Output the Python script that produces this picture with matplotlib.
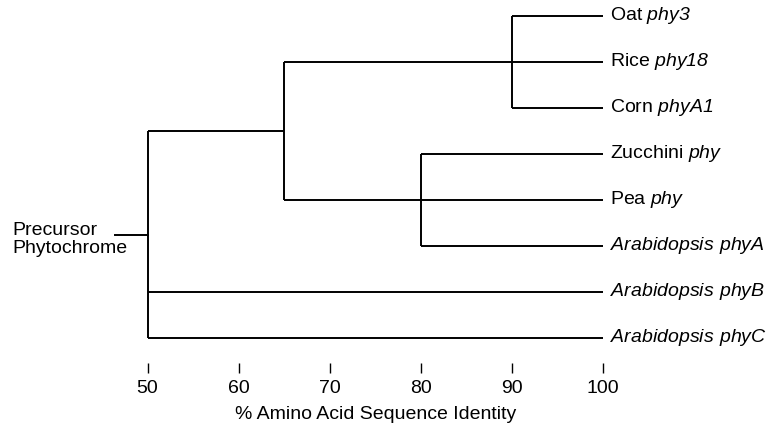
import matplotlib
matplotlib.use("Agg")
import matplotlib.pyplot as plt
import numpy as np

plt.rcParams["font.family"] = ["Liberation Sans", "DejaVu Sans"]
plt.rcParams["mathtext.fontset"] = "custom"
plt.rcParams["mathtext.rm"] = "Liberation Sans"
# italic gene names via \mathsf so digits stay italic too
plt.rcParams["mathtext.sf"] = "Liberation Sans:italic"

# leaves, top to bottom
leaf_labels = [
    r"Oat $\mathsf{phy3}$",
    r"Rice $\mathsf{phy18}$",
    r"Corn $\mathsf{phyA1}$",
    r"Zucchini $\mathsf{phy}$",
    r"Pea $\mathsf{phy}$",
    r"$\mathsf{Arabidopsis\ phyA}$",
    r"$\mathsf{Arabidopsis\ phyB}$",
    r"$\mathsf{Arabidopsis\ phyC}$",
]
leaf_identity = 100

# internal nodes: (name, % identity, children)
nodes = [
    ("monocot", 90, [0, 1, 2]),
    ("dicot", 80, [3, 4, 5]),
    ("phyA", 65, ["monocot", "dicot"]),
    ("root", 50, ["phyA", 6, 7]),
]
root_stub = 46.4

xticks = [50, 60, 70, 80, 90, 100]
xlabel = "% Amino Acid Sequence Identity"
root_label = "Precursor\nPhytochrome"

fs = 14
lw = 1.4

fig = plt.figure(figsize=(7.72, 4.26), dpi=100)
ax = fig.add_axes([147.5 / 772, 63 / 426, 455.5 / 772, 347 / 426])

pos = {i: (leaf_identity, float(i)) for i in range(len(leaf_labels))}
for name, x, kids in nodes :
    ys = [pos[k][1] for k in kids]
    ax.plot([x, x], [min(ys), max(ys)], color="k", lw=lw, solid_capstyle="butt", clip_on=False)
    for k in kids :
        ax.plot([x, pos[k][0]], [pos[k][1], pos[k][1]], color="k", lw=lw, solid_capstyle="butt", clip_on=False)
    pos[name] = (x, 0.5 * (min(ys) + max(ys)))

rx, ry = pos["root"]
ax.plot([root_stub, rx], [ry, ry], color="k", lw=lw, clip_on=False)
ax.annotate(root_label, xy=(35.2, ry), xytext=(0, -3.5), textcoords="offset points",
            ha="left", va="center", fontsize=fs, linespacing=1.1, annotation_clip=False)

for i, lab in enumerate(leaf_labels) :
    ax.annotate(lab, xy=(leaf_identity, i), xytext=(5, 0), textcoords="offset points",
                ha="left", va="center", fontsize=fs, annotation_clip=False)

ax.set_xlim(50, 100)
ax.set_ylim(7 + 25 / 46, 0)
ax.set_xticks(xticks)
ax.set_yticks([])
ax.tick_params(axis="x", direction="out", length=7, width=1, pad=5, labelsize=fs)
for s in ax.spines.values() :
    s.set_visible(False)
ax.set_xlabel(xlabel, fontsize=fs, labelpad=7)

fig.savefig("out.png", dpi=100)
